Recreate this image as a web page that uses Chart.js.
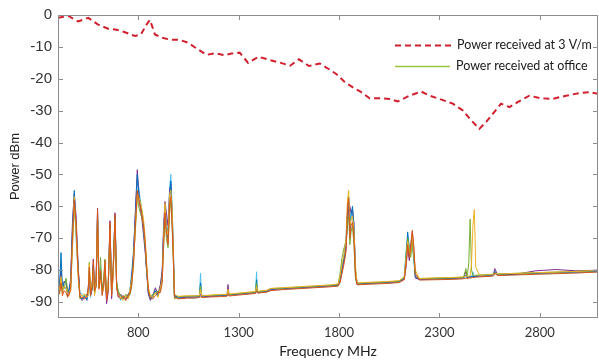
<!DOCTYPE html>
<html><head><meta charset="utf-8">
<script src="https://cdn.jsdelivr.net/npm/chart.js@4.4.1/dist/chart.umd.min.js"></script>
<style>html,body{margin:0;padding:0;background:#fff}#wrap{width:599px;height:362px;position:relative}</style>
</head><body><div id="wrap"><canvas id="c"></canvas></div>
<script>
// Frequency grid (MHz) shared by the measured office traces
const freqGrid = [400,408,415,422,430,440,448,456,463,472,481,490,500,509,520,532,544,551,556,562,570,576,582,590,597,604,612,620,627,634,642,650,659,667,675,684,692,700,712,725,738,750,760,768,776,785,795,802,810,818,826,834,842,850,860,872,885,898,910,919,926,933,940,948,956,962,968,974,980,1000,1040,1080,1104,1110,1116,1160,1210,1242,1247,1252,1300,1350,1384,1389,1394,1440,1460,1520,1600,1680,1760,1795,1805,1815,1825,1835,1842,1848,1854,1860,1867,1874,1882,1890,1950,2030,2100,2125,2134,2142,2150,2157,2165,2172,2180,2200,2280,2360,2420,2432,2438,2446,2453,2460,2467,2474,2481,2500,2560,2570,2576,2590,2680,2780,2880,2980,3090];

// Office sweeps (dBm)
const sweepBlue = [-87,-85,-74.5,-86,-84,-83,-87,-86,-84,-67,-55,-66,-79,-88,-89,-88,-89.5,-87,-80,-87.5,-86,-78,-87,-84,-62,-84,-82,-86,-84,-79,-88.5,-85,-66,-86,-80,-63,-84,-87,-88,-89,-88,-88.5,-86,-82,-76,-64,-50,-56,-59,-62,-67,-73,-80,-87,-89,-88,-86.5,-88,-86,-82,-68,-60,-66,-70,-58,-52,-62,-73,-88,-88.5,-88.3,-88.4,-88.2,-84,-88.2,-88,-87.8,-87.8,-86.5,-87.7,-87.4,-87.1,-86.9,-83,-86.9,-86.5,-85.9,-85.7,-85.4,-85.1,-84.8,-84.6,-83,-79,-76,-72,-63,-57,-68,-63,-60,-66,-80,-84.2,-84,-83.8,-83.5,-82.5,-76,-68,-75,-74,-70,-75,-82,-82.8,-82.6,-82.5,-82.3,-81.5,-82.2,-82.1,-82,-82,-81.9,-81.9,-81.9,-81.8,-81.6,-81.4,-80.5,-81.4,-81.2,-81,-80.8,-80.6,-80.3];
const sweepOrange = [-88,-87,-84,-88,-86.5,-87,-88.5,-87.5,-86,-70,-58,-65,-80,-88.5,-88.5,-89,-88,-86,-79,-88,-85,-77,-86.5,-85,-61,-86,-80,-88,-85,-77,-89.5,-86,-65,-88,-79,-62.5,-85.5,-88,-89,-88,-89.5,-88,-87,-84,-78,-67,-55,-58,-60,-63,-66,-71,-79,-86.5,-88.5,-89,-88,-87,-87,-84,-72,-62,-68,-72,-60,-57,-65,-75,-88.5,-89,-88.8,-88.7,-88.6,-88.3,-88.6,-88.4,-88.3,-88.2,-87.5,-88.1,-87.8,-87.5,-87.3,-86.5,-87.2,-86.9,-86.4,-86.1,-85.8,-85.5,-85.2,-85,-84,-81,-78,-74,-60,-57.5,-70,-66,-65,-70,-82,-84.6,-84.4,-84.2,-83.9,-83,-78,-72,-76,-73,-67.5,-72,-81,-83.1,-83,-82.9,-82.7,-82.5,-82.6,-82.5,-82.4,-82.4,-82.3,-82.3,-82.2,-82.1,-81.9,-81.8,-81,-81.7,-81.5,-81.3,-81.1,-80.9,-80.6];
const sweepYellow = [-86.5,-86,-82,-87,-85,-85.5,-87.5,-88,-85.5,-72,-57,-68,-82,-87.5,-88,-87.5,-88.5,-88,-78,-86.5,-84.5,-80,-88,-83.5,-64,-85,-83,-87,-86,-78,-88,-84,-67,-87,-82,-65,-86,-87.5,-88.5,-89.5,-88,-89,-85.5,-83,-79,-66,-56,-57,-58.5,-61,-64,-70,-78,-85.5,-88,-88.5,-87,-88.5,-85.5,-83,-70,-59,-67,-69,-56,-55,-60,-72,-87.5,-88.2,-88,-88.1,-88,-86,-88.1,-87.8,-87.6,-87.6,-86,-87.5,-87.2,-86.9,-86.7,-85,-86.6,-86.3,-85.7,-85.5,-85.2,-84.9,-84.6,-84.3,-82,-78,-75,-70,-58,-55,-66,-64,-63,-67,-79,-84,-83.8,-83.6,-83.3,-82,-77,-71,-74,-75,-69,-74,-80,-82.6,-82.4,-82.3,-82.1,-81.8,-82,-81.9,-81.8,-78,-66,-61,-79,-81.6,-81.4,-81.2,-81,-81.2,-81,-80.8,-80.6,-80.4,-80.1];
const sweepPurple = [-87.5,-84.5,-80,-86.5,-83.5,-84,-88,-85.5,-83,-65,-56,-63,-78,-88,-89.5,-88.5,-89,-85,-81,-88,-86,-76.5,-85.5,-82,-60.5,-83,-81,-85.5,-85.5,-80,-90.5,-87,-64.5,-89,-81,-62,-84.5,-88.5,-87.5,-88.5,-89,-87.5,-86.5,-81.5,-75,-62,-48.5,-55,-61,-64,-69,-74,-81,-87.5,-89.5,-88,-85.5,-87.5,-84.5,-80,-66,-58.5,-62,-66,-55,-53,-63,-74,-88,-88.7,-88.5,-88.4,-88.3,-87.5,-88.4,-88.2,-88,-87.9,-84.5,-87.8,-87.5,-87.2,-87,-85.5,-86.9,-86.6,-86.1,-85.8,-85.5,-85.2,-84.9,-84.7,-83.5,-80,-77,-73,-65,-61,-60,-62,-61,-65,-81,-84.4,-84.1,-83.9,-83.6,-82.8,-79,-73,-77,-72,-68,-73,-82.5,-82.9,-82.7,-82.6,-82.4,-80.5,-82.3,-82.2,-82.1,-82.1,-82,-82,-81.9,-81.9,-81.7,-81,-79.5,-81.5,-81.3,-80.2,-79.8,-80.2,-80];
const sweepGreen = [-86,-87.5,-83,-85.5,-86,-82.5,-86.5,-87,-86.5,-73,-60,-67,-81,-89,-88.5,-88,-87.5,-87,-77.5,-87,-85.5,-79,-87.5,-84.5,-63,-85.5,-76,-86.5,-83,-76.5,-89,-85.5,-68,-87.5,-78.5,-64,-83.5,-86.5,-88,-89,-87.5,-88.5,-87.5,-84.5,-77,-68,-57,-60,-62,-63.5,-66.5,-72,-80.5,-86,-88.5,-87.5,-87.5,-86.5,-86.5,-83.5,-73,-64,-70,-73,-62,-58,-66,-76,-89,-88.3,-88.2,-88,-88.1,-85,-88,-87.9,-87.7,-87.7,-87,-87.6,-87.3,-87,-86.8,-84,-86.7,-86.4,-85.8,-85.6,-85.3,-85,-84.7,-84.5,-81,-76,-73,-71,-66,-63,-72,-68,-66,-72,-83,-84.1,-83.9,-83.7,-83.4,-82.3,-75,-70,-73,-76,-71,-76,-81.5,-82.7,-82.5,-82.4,-82.2,-79.5,-82.1,-78,-64,-80,-81.7,-81.7,-81.6,-81.5,-81.3,-81.2,-80.8,-81.2,-81,-80.8,-80.6,-80.4,-80.1];
const sweepCyan = [-88.5,-86,-78,-87,-85,-86,-87,-86.5,-84.5,-69,-58.5,-70,-80,-87,-87.5,-89,-88,-86.5,-80.5,-88.5,-84,-78.5,-86,-85.5,-65,-84.5,-79,-87.5,-84.5,-78.5,-88,-84.5,-66.5,-86.5,-80.5,-66,-85,-87,-89.5,-88,-88.5,-89,-85,-80,-74,-63,-52,-54,-58,-61.5,-65,-71.5,-79.5,-87,-88,-89,-86,-88,-85,-81,-69,-61,-65,-68,-54,-50,-59,-71,-87.5,-88.9,-88.6,-88.8,-88.4,-81,-88.3,-88.3,-88.1,-88,-85.5,-88,-87.7,-87.4,-87.2,-80.5,-87.1,-86.8,-86.3,-86,-85.7,-85.4,-85.1,-84.9,-82.5,-79.5,-75.5,-69,-62,-59,-65,-61,-62.5,-68,-80.5,-84.5,-84.3,-84.1,-83.8,-82,-74,-69,-72,-74.5,-72,-77,-82,-83,-82.9,-82.8,-82.6,-82,-82.5,-82.4,-82.3,-82.3,-80.5,-82.2,-82.1,-82,-81.8,-81.6,-80.2,-81.6,-81.4,-81.2,-81,-80.8,-80.5];

// Reference curve: power received at 3 V/m
const refFreq = [400,451,501,551,600,650,692,733,783,813,841,858,883,916,957,1007,1048,1098,1140,1181,1231,1264,1305,1347,1400,1460,1510,1556,1600,1650,1704,1750,1786,1828,1869,1911,1952,2002,2052,2093,2151,2209,2251,2300,2367,2416,2458,2499,2533,2574,2607,2649,2690,2748,2806,2864,2931,2997,3047,3090];
const refPower = [-0.9,-0.3,-2.0,-0.9,-3.0,-4.3,-4.6,-5.4,-6.6,-6.1,-3.0,-1.5,-6.1,-7.1,-7.7,-7.8,-8.7,-10.8,-12.5,-12.0,-12.6,-12.1,-11.8,-15.0,-13.1,-14.2,-15.0,-15.9,-13.9,-16.0,-15.2,-17.0,-18.5,-21.0,-22.7,-24.2,-26.1,-26.1,-26.3,-27.1,-25.3,-24.0,-25.3,-26.3,-27.8,-29.9,-33.0,-35.7,-33.5,-30.4,-27.8,-28.9,-27.3,-25.3,-26.1,-26.3,-25.3,-24.5,-24.2,-24.7];

const xTicks = [800,1300,1800,2300,2800];
const yTicks = [0,-10,-20,-30,-40,-50,-60,-70,-80,-90];
const legendLabels = ['Power received at 3 V/m','Power received at office'];
const sweepColors = ['#0072BD','#D95319','#EDB120','#7E2F8E','#77AC30','#4DBEEE'];
const sweeps = [sweepBlue, sweepOrange, sweepYellow, sweepPurple, sweepGreen, sweepCyan];
const sweepOrder = [4, 1, 2, 5, 3, 6];

const toXY = (xs, ys) => xs.map((f, i) => ({x: f, y: ys[i]}));

const datasets = [{
  label: legendLabels[0],
  data: toXY(refFreq, refPower),
  borderColor: '#D0202E',
  borderWidth: 2,
  borderDash: [6, 4],
  pointRadius: 0,
  tension: 0,
  order: 0
}];
sweeps.forEach((s, i) => datasets.push({
  label: legendLabels[1],
  data: toXY(freqGrid, s),
  borderColor: sweepColors[i],
  borderWidth: 1,
  pointRadius: 0,
  tension: 0,
  order: sweepOrder[i]
}));

const boxPlugin = {
  id: 'boxLegend',
  afterDatasetsDraw(chart) {
    const {ctx, chartArea: a, scales: {x, y}} = chart;
    ctx.save();
    ctx.strokeStyle = '#8c8c8c';
    ctx.lineWidth = 1;
    ctx.strokeRect(Math.round(a.left) + 0.5, Math.round(a.top) + 0.5, Math.round(a.right - a.left) - 1, Math.round(a.bottom - a.top) - 1);
    const L = 5;
    ctx.beginPath();
    xTicks.forEach(v => {
      const px = Math.round(x.getPixelForValue(v)) + 0.5;
      ctx.moveTo(px, a.bottom); ctx.lineTo(px, a.bottom - L);
      ctx.moveTo(px, a.top); ctx.lineTo(px, a.top + L);
    });
    yTicks.forEach(v => {
      const py = Math.round(y.getPixelForValue(v)) + 0.5;
      ctx.moveTo(a.left, py); ctx.lineTo(a.left + L, py);
      ctx.moveTo(a.right, py); ctx.lineTo(a.right - L, py);
    });
    ctx.stroke();
    // legend (font sized so the first label spans ~135 px as in the reference)
    ctx.font = '14px Lato';
    const w = ctx.measureText(legendLabels[0]).width;
    const fs = Math.min(14, 14 * 135 / w);
    ctx.font = fs.toFixed(2) + 'px Lato';
    ctx.fillStyle = '#1a1a1a';
    ctx.textBaseline = 'middle';
    ctx.textAlign = 'left';
    ctx.strokeStyle = '#D0202E';
    ctx.lineWidth = 2;
    ctx.setLineDash([6, 4]);
    ctx.beginPath(); ctx.moveTo(395, 45.5); ctx.lineTo(452, 45.5); ctx.stroke();
    ctx.setLineDash([]);
    ctx.strokeStyle = '#9BC53D';
    ctx.lineWidth = 1.5;
    ctx.beginPath(); ctx.moveTo(395, 66.5); ctx.lineTo(450, 66.5); ctx.stroke();
    ctx.fillText(legendLabels[0], 457, 45);
    ctx.fillText(legendLabels[1], 456, 66);
    ctx.restore();
  }
};

new Chart(document.getElementById('c'), {
  type: 'line',
  data: {datasets},
  options: {
    responsive: true,
    maintainAspectRatio: false,
    animation: false,
    layout: {padding: {top: 12, right: 1, left: 0, bottom: 0}},
    plugins: {legend: {display: false}, tooltip: {enabled: false}},
    scales: {
      x: {
        type: 'linear', min: 400, max: 3090,
        afterBuildTicks: s => { s.ticks = xTicks.map(v => ({value: v})); },
        afterFit: s => { s.height = 44; },
        grid: {display: false, drawTicks: false},
        border: {display: false},
        ticks: {font: {family: 'Lato', size: 13}, color: '#333', padding: 7, maxRotation: 0, callback: v => String(v)},
        title: {display: true, text: 'Frequency MHz', font: {family: 'Lato', size: 14}, color: '#222', padding: {top: 0, bottom: 2}}
      },
      y: {
        type: 'linear', min: -95, max: 0,
        afterBuildTicks: s => { s.ticks = yTicks.map(v => ({value: v})); },
        afterFit: s => { s.width = 58; },
        grid: {display: false, drawTicks: false},
        border: {display: false},
        ticks: {font: {family: 'Liberation Sans', size: 15}, color: '#333', padding: 6, callback: v => String(v)},
        title: {display: true, text: 'Power dBm', font: {family: 'Liberation Sans', size: 13}, color: '#222', padding: {top: 8, bottom: 0}}
      }
    }
  },
  plugins: [boxPlugin]
});
</script>
</body></html>
